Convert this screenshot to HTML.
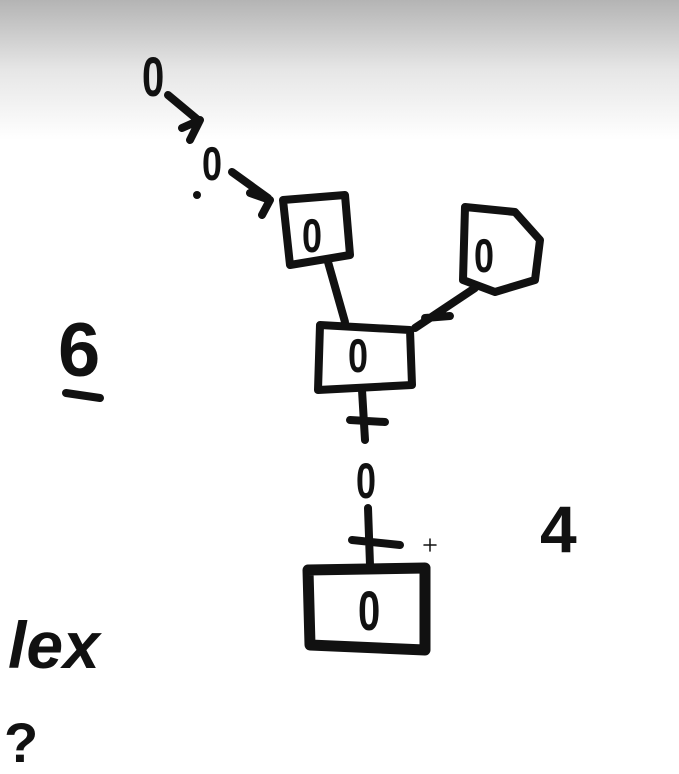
<!DOCTYPE html>
<html><head><meta charset="utf-8"><style>
html,body{margin:0;padding:0;width:679px;height:774px;overflow:hidden;background:#fff}
svg{display:block}
text{font-family:"Liberation Sans",sans-serif;font-weight:bold;fill:#111}
</style></head><body>
<svg width="679" height="774" viewBox="0 0 679 774">
<defs><linearGradient id="g" x1="0" y1="0" x2="0" y2="1">
<stop offset="0" stop-color="#b4b4b4"/><stop offset="0.5" stop-color="#e6e6e6"/><stop offset="1" stop-color="#fff"/></linearGradient></defs>
<rect x="0" y="0" width="679" height="140" fill="url(#g)"/>
<g fill="none" stroke="#111" stroke-width="8" stroke-linecap="round" stroke-linejoin="round">
<path d="M168 95 L198 120 M182 128 L200 120 L190 140"/>
<path d="M232 172 L268 198 M250 193 L270 200 L262 215"/>
<path d="M283 200 L345 195 L350 255 L290 265 Z"/>
<path d="M465 207 L515 212 L540 240 L535 280 L495 292 L463 280 Z"/>
<path d="M328 262 L345 322"/>
<path d="M475 288 L415 328 M425 318 L450 316"/>
<path d="M320 325 L410 330 L412 385 L318 390 Z"/>
<path d="M362 390 L365 440 M350 420 L385 422"/>
<path d="M368 508 L370 565 M352 540 L400 545"/>
<path stroke-width="11" d="M308 570 L425 568 L425 650 L310 645 Z"/>
<path d="M66 393 L100 398"/>
<path stroke-width="1.5" d="M424 545 L436 545 M430 539 L430 551"/>
</g>
<circle cx="197" cy="195" r="4" fill="#111"/>
<text x="0" y="0" font-size="40" transform="translate(142,96) scale(1,1.4)">0</text>
<text x="0" y="0" font-size="36" transform="translate(202,180) scale(1,1.3)">0</text>
<text x="0" y="0" font-size="36" transform="translate(302,252) scale(1,1.3)">0</text>
<text x="0" y="0" font-size="36" transform="translate(474,272) scale(1,1.3)">0</text>
<text x="0" y="0" font-size="36" transform="translate(348,372) scale(1,1.3)">0</text>
<text x="0" y="0" font-size="36" transform="translate(356,498) scale(1,1.4)">0</text>
<text x="0" y="0" font-size="40" transform="translate(358,630) scale(1,1.4)">0</text>
<text x="58" y="376" font-size="76">6</text>
<text x="540" y="552" font-size="66">4</text>
<text x="8" y="668" font-size="66" font-style="italic">lex</text>
<text x="4" y="762" font-size="56">?</text>
</svg>
</body></html>
